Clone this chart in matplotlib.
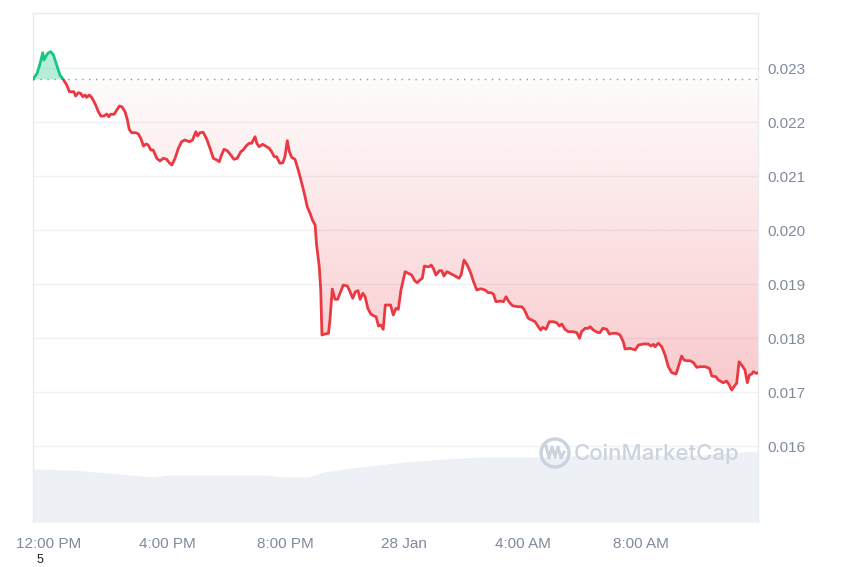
import numpy as np
import matplotlib
matplotlib.use("Agg")
import matplotlib.pyplot as plt
from matplotlib.patches import Rectangle, Circle
from matplotlib.lines import Line2D

# hours after 12:00 PM (27 Jan) and price in USD
hours = [
    -0.54, -0.40, -0.30, -0.21, -0.17, -0.10, -0.02, 0.06, 0.15, 0.26,
    0.37, 0.48, 0.60, 0.69, 0.77, 0.84, 0.90, 0.99, 1.07, 1.14,
    1.22, 1.27, 1.36, 1.44, 1.55, 1.67, 1.75, 1.86, 1.95, 2.02,
    2.08, 2.20, 2.29, 2.38, 2.46, 2.57, 2.65, 2.71, 2.79, 2.94,
    3.02, 3.10, 3.19, 3.28, 3.35, 3.44, 3.52, 3.64, 3.75, 3.86,
    3.98, 4.06, 4.15, 4.26, 4.37, 4.48, 4.59, 4.74, 4.85, 4.96,
    5.02, 5.10, 5.21, 5.33, 5.44, 5.55, 5.67, 5.75, 5.83, 5.91,
    6.02, 6.14, 6.25, 6.36, 6.48, 6.56, 6.66, 6.76, 6.85, 6.90,
    6.96, 7.02, 7.10, 7.22, 7.35, 7.44, 7.52, 7.61, 7.69, 7.80,
    7.90, 7.97, 8.05, 8.12, 8.20, 8.31, 8.42, 8.54, 8.65, 8.73,
    8.82, 8.90, 8.99, 9.04, 9.13, 9.18, 9.22, 9.32, 9.44, 9.49,
    9.57, 9.66, 9.75, 9.83, 9.94, 10.08, 10.17, 10.26, 10.35, 10.44,
    10.51, 10.60, 10.68, 10.77, 10.87, 10.98, 11.05, 11.13, 11.21, 11.29,
    11.36, 11.46, 11.54, 11.63, 11.72, 11.80, 11.89, 12.03, 12.14, 12.25,
    12.36, 12.44, 12.53, 12.61, 12.68, 12.78, 12.85, 12.91, 12.98, 13.07,
    13.19, 13.27, 13.34, 13.44, 13.55, 13.72, 13.85, 13.92, 14.02, 14.13,
    14.25, 14.33, 14.45, 14.58, 14.73, 14.84, 14.93, 15.01, 15.10, 15.24,
    15.35, 15.44, 15.52, 15.63, 15.69, 15.85, 15.97, 16.05, 16.19, 16.31,
    16.42, 16.53, 16.61, 16.68, 16.79, 16.90, 17.04, 17.15, 17.24, 17.32,
    17.43, 17.54, 17.71, 17.83, 17.92, 17.99, 18.11, 18.22, 18.28, 18.39,
    18.52, 18.61, 18.71, 18.84, 18.93, 19.04, 19.18, 19.29, 19.40, 19.46,
    19.63, 19.80, 19.91, 20.08, 20.25, 20.33, 20.42, 20.47, 20.58, 20.70,
    20.81, 20.92, 21.04, 21.18, 21.26, 21.37, 21.45, 21.52, 21.66, 21.77,
    21.88, 21.99, 22.16, 22.31, 22.39, 22.53, 22.61, 22.78, 22.89, 22.98,
    23.06, 23.18, 23.23, 23.31, 23.40, 23.51, 23.59, 23.66, 23.74, 23.79,
    23.89, 23.95,
]
price = [
    0.022796, 0.022902, 0.023087, 0.023283, 0.023148, 0.023222, 0.023283, 0.023302, 0.023241, 0.023056,
    0.022870, 0.022791, 0.022685, 0.022561, 0.022561, 0.022561, 0.022481, 0.022543, 0.022531, 0.022469,
    0.022500, 0.022457, 0.022500, 0.022457, 0.022346, 0.022191, 0.022111, 0.022111, 0.022148, 0.022098,
    0.022143, 0.022143, 0.022222, 0.022296, 0.022283, 0.022191, 0.022037, 0.021865, 0.021802, 0.021802,
    0.021778, 0.021698, 0.021556, 0.021593, 0.021574, 0.021481, 0.021481, 0.021328, 0.021278, 0.021328,
    0.021309, 0.021246, 0.021204, 0.021328, 0.021513, 0.021635, 0.021667, 0.021635, 0.021667, 0.021820,
    0.021741, 0.021802, 0.021809, 0.021680, 0.021513, 0.021328, 0.021296, 0.021265, 0.021389, 0.021494,
    0.021469, 0.021389, 0.021309, 0.021328, 0.021450, 0.021481, 0.021556, 0.021606, 0.021606, 0.021667,
    0.021728, 0.021606, 0.021543, 0.021587, 0.021543, 0.021513, 0.021450, 0.021357, 0.021357, 0.021235,
    0.021246, 0.021357, 0.021654, 0.021450, 0.021346, 0.021309, 0.021111, 0.020865, 0.020617, 0.020420,
    0.020309, 0.020185, 0.020093, 0.019722, 0.019320, 0.018889, 0.018056, 0.018074, 0.018087, 0.018333,
    0.018907, 0.018717, 0.018717, 0.018828, 0.018981, 0.018963, 0.018857, 0.018735, 0.018857, 0.018876,
    0.018717, 0.018828, 0.018765, 0.018550, 0.018444, 0.018407, 0.018394, 0.018222, 0.018241, 0.018161,
    0.018611, 0.018611, 0.018611, 0.018426, 0.018550, 0.018531, 0.018889, 0.019228, 0.019198, 0.019167,
    0.019056, 0.019024, 0.019074, 0.019106, 0.019333, 0.019320, 0.019320, 0.019352, 0.019291, 0.019167,
    0.019246, 0.019246, 0.019148, 0.019228, 0.019198, 0.019148, 0.019106, 0.019167, 0.019444, 0.019352,
    0.019198, 0.019061, 0.018889, 0.018913, 0.018889, 0.018839, 0.018839, 0.018815, 0.018672, 0.018685,
    0.018672, 0.018765, 0.018685, 0.018611, 0.018593, 0.018580, 0.018580, 0.018531, 0.018365, 0.018333,
    0.018302, 0.018209, 0.018148, 0.018198, 0.018161, 0.018302, 0.018302, 0.018283, 0.018222, 0.018259,
    0.018161, 0.018117, 0.018117, 0.018098, 0.017994, 0.018117, 0.018180, 0.018180, 0.018209, 0.018148,
    0.018106, 0.018098, 0.018180, 0.018161, 0.018074, 0.018087, 0.018087, 0.018056, 0.017931, 0.017796,
    0.017809, 0.017778, 0.017870, 0.017889, 0.017889, 0.017852, 0.017883, 0.017839, 0.017902, 0.017839,
    0.017685, 0.017469, 0.017357, 0.017333, 0.017469, 0.017667, 0.017593, 0.017580, 0.017580, 0.017543,
    0.017457, 0.017469, 0.017469, 0.017439, 0.017296, 0.017283, 0.017222, 0.017172, 0.017204, 0.017130,
    0.017037, 0.017130, 0.017161, 0.017561, 0.017500, 0.017407, 0.017172, 0.017315, 0.017333, 0.017376,
    0.017346, 0.017357,
]
open_price = 0.022796

# volume profile (millions USD, read at a few points)
vol_hours = [-0.54, 0.81, 1.99, 2.74, 3.45, 4.03, 5.10, 6.11, 7.30, 7.97, 8.75,
             9.29, 10.20, 11.11, 12.03, 12.94, 13.85, 14.76, 16.59, 18.45, 20.30,
             22.09, 23.95]
volume = [5.3, 5.2, 4.9, 4.7, 4.5, 4.7, 4.7, 4.7, 4.7, 4.5, 4.5,
          5.0, 5.4, 5.7, 6.0, 6.2, 6.4, 6.5, 6.5, 6.7, 6.7,
          6.7, 7.1]

yticks = [0.016, 0.017, 0.018, 0.019, 0.020, 0.021, 0.022, 0.023]
xticks = [0, 4, 8, 12, 16, 20]
xlabels = ['12:00 PM', '4:00 PM', '8:00 PM', '28 Jan', '4:00 AM', '8:00 AM']

RED = '#ea3943'
GREEN = '#16c784'
GRAY_TXT = '#808a9d'
GRID = '#eff2f5'

t = np.array(hours)
p = np.array(price)

fig = plt.figure(figsize=(8.5, 5.67), dpi=100)
ax = fig.add_axes([33/850, 1 - 522/567, 725/850, 509/567])
axv = ax.twinx()
ax.set_zorder(axv.get_zorder() + 1)
ax.patch.set_visible(False)

xmin, xmax = hours[0], hours[-1]
ymin, ymax = 0.014593, 0.0240185

# volume
axv.fill_between(vol_hours, volume, 0, color='#edf0f4', lw=0)
axv.set_ylim(0, 50.9)
axv.set_yticks([])
for s in axv.spines.values():
    s.set_visible(False)

# grid
for y in yticks:
    ax.axhline(y, color=GRID, lw=1, zorder=0)

# red gradient fill below open price (one polygon, clipped at the open)
poly = ax.fill_between(t, np.minimum(p, open_price), open_price,
                       color='none', lw=0)
grad = np.zeros((256, 2, 4))
grad[..., :3] = matplotlib.colors.to_rgb(RED)
lo = p.min()
grad[..., 3] = np.linspace(0.27, 0.02, 256)[:, None]
im = ax.imshow(grad, extent=[xmin, xmax, lo, open_price], origin='lower',
               aspect='auto', zorder=1, interpolation='bilinear')
im.set_clip_path(poly.get_paths()[0], transform=ax.transData)

# green fill above open price
ax.fill_between(t, p, open_price, where=p >= open_price, interpolate=True,
                color=GREEN, alpha=0.3, lw=0, zorder=1)

# price line, split at the open price
above = Rectangle((xmin, open_price), xmax - xmin, 1, transform=ax.transData)
below = Rectangle((xmin, 0), xmax - xmin, open_price, transform=ax.transData)
lg, = ax.plot(t, p, color=GREEN, lw=2.0, zorder=3, solid_joinstyle='round')
lg.set_clip_path(above)
lr, = ax.plot(t, p, color=RED, lw=2.0, zorder=3, solid_joinstyle='round')
lr.set_clip_path(below)

ax.axhline(open_price, color='#8f98a8', lw=1, ls=(0, (1, 4)), zorder=2)

ax.set_xlim(xmin, xmax)
ax.set_ylim(ymin, ymax)
ax.set_xticks(xticks)
ax.set_xticklabels(xlabels)
ax.set_yticks(yticks)
ax.set_yticklabels([f'{v:.3f}' for v in yticks])
ax.yaxis.tick_right()
ax.tick_params(axis='both', length=0, labelsize=11, labelcolor=GRAY_TXT,
               labelfontfamily='Liberation Sans')
ax.tick_params(axis='x', pad=11)
ax.tick_params(axis='y', pad=7)
for name, s in ax.spines.items():
    s.set_color('#e8ebef')
    s.set_linewidth(1)
ax.spines['bottom'].set_visible(False)

# watermark
wm = '#cdd3de'
fig.patches.append(Circle((555, 567 - 453), 14, transform=None, fill=False,
                          edgecolor=wm, lw=2.5, zorder=5))
mx = np.array([546, 549, 552, 555, 558, 561, 564])
my = np.array([446, 458, 447, 457, 447, 458, 452])
fig.lines.append(Line2D(mx, 567 - my, transform=None, color=wm, lw=2.2,
                        solid_joinstyle='round', zorder=5))
fig.text(574 / 850, 1 - 454 / 567, 'CoinMarketCap', ha='left', va='center',
         fontsize=16, color=wm, family='Inter', fontweight='medium')

fig.text(40 / 850, 1 - 560 / 567, '5', ha='center', va='center',
         fontsize=9, color='#222222', family='Liberation Sans')

fig.savefig('out.png', dpi=100, facecolor='white')
